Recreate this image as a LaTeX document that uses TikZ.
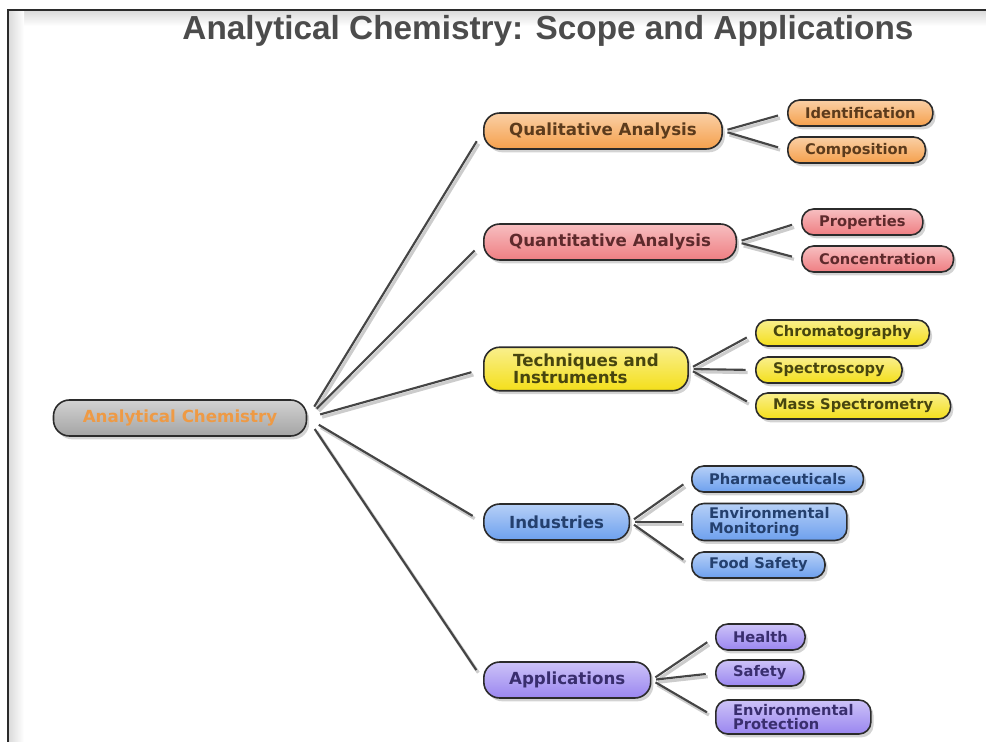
\documentclass[tikz,border=0pt]{standalone}
\usepackage{fontspec}
\setmainfont{DejaVu Sans}
\newfontfamily\titlefont{Liberation Sans}
\usetikzlibrary{shadows}

\definecolor{framec}{HTML}{2B2B2B}
\definecolor{linec}{HTML}{454545}
\definecolor{rootc}{HTML}{A4A4A4}
\definecolor{roottxt}{HTML}{EE9A45}
\definecolor{qualc}{HTML}{F5A04C}
\definecolor{qualtxt}{HTML}{5C3B1C}
\definecolor{quantc}{HTML}{EF7E82}
\definecolor{quanttxt}{HTML}{5E2A2C}
\definecolor{techc}{HTML}{F4DF1A}
\definecolor{techtxt}{HTML}{47450F}
\definecolor{indc}{HTML}{6DA0EE}
\definecolor{indtxt}{HTML}{24406E}
\definecolor{appc}{HTML}{9A86F0}
\definecolor{apptxt}{HTML}{392E6E}

\begin{document}
\begin{tikzpicture}[x=0.75pt,y=-0.75pt,
  box/.style={draw=framec,line width=1.2pt,rounded corners=12pt,align=left,
    font=\bfseries\fontsize{12.5}{13}\selectfont,inner xsep=19pt,inner ysep=5pt,minimum height=27pt,
    drop shadow={opacity=0.35,shadow xshift=2pt,shadow yshift=-2.5pt}},
  tint/.style={top color=#1!50!white,bottom color=#1},
  leaf/.style={box,rounded corners=9pt,font=\bfseries\fontsize{11}{11}\selectfont,
    inner xsep=13pt,inner ysep=3pt,minimum height=19.5pt},
  branch/.style={draw=linec,line width=1.6pt,shorten <=10pt,shorten >=9pt,
    preaction={draw=black!20,line width=2.4pt,transform canvas={xshift=1.5pt,yshift=-2pt}}},
  twig/.style={branch,shorten <=3.5pt,shorten >=7pt}]
\useasboundingbox (0,0) rectangle (986,742);
\shade[top color=black!14,bottom color=white] (9,11) rectangle (986,26);
\shade[left color=black!14,right color=white] (9,11) rectangle (24,742);
\draw[framec,line width=1.6pt] (8,742) -- (8,10) -- (986,10);

\node[text=black!70,font=\titlefont\bfseries\fontsize{25}{28}\selectfont] (title) at (548,31) {Analytical Chemistry: Scope and Applications};

\node[box,tint=rootc,text=roottxt,inner xsep=22pt] (root) at (180,418) {Analytical Chemistry};
\node[box,tint=qualc,text=qualtxt,anchor=west] (qual) at (483,131) {Qualitative Analysis};
\node[box,tint=quantc,text=quanttxt,anchor=west] (quant) at (483,242) {Quantitative Analysis};
\node[box,tint=techc,text=techtxt,anchor=west,inner xsep=22pt] (tech) at (483,369) {Techniques and\\Instruments};
\node[box,tint=indc,text=indtxt,anchor=west] (ind) at (483,522) {Industries};
\node[box,tint=appc,text=apptxt,anchor=west] (app) at (483,680) {Applications};

\foreach \mid in {qual,quant,tech,ind,app}
  \draw[branch] (root.east) -- (\mid.west);

\foreach \nm/\x/\y/\txt/\up/\col in {
  ident/787/113/Identification/qual/qual, compo/787/150/Composition/qual/qual,
  props/801/222/Properties/quant/quant, conc/801/259/Concentration/quant/quant,
  chrom/755/333/Chromatography/tech/tech, spec/755/370/Spectroscopy/tech/tech,
  mass/755/406/Mass Spectrometry/tech/tech,
  pharm/691/479/Pharmaceuticals/ind/ind, envmon/691/522/{Environmental\\Monitoring}/ind/ind,
  food/691/565/Food Safety/ind/ind,
  health/715/637/Health/app/app, safety/715/673/Safety/app/app,
  envprot/715/717/{Environmental\\Protection}/app/app} {
  \node[leaf,tint=\col c,text=\col txt,anchor=west] (\nm) at (\x,\y) {\txt};
  \draw[twig] (\up.east) -- (\nm.west);
}
\end{tikzpicture}
\end{document}
